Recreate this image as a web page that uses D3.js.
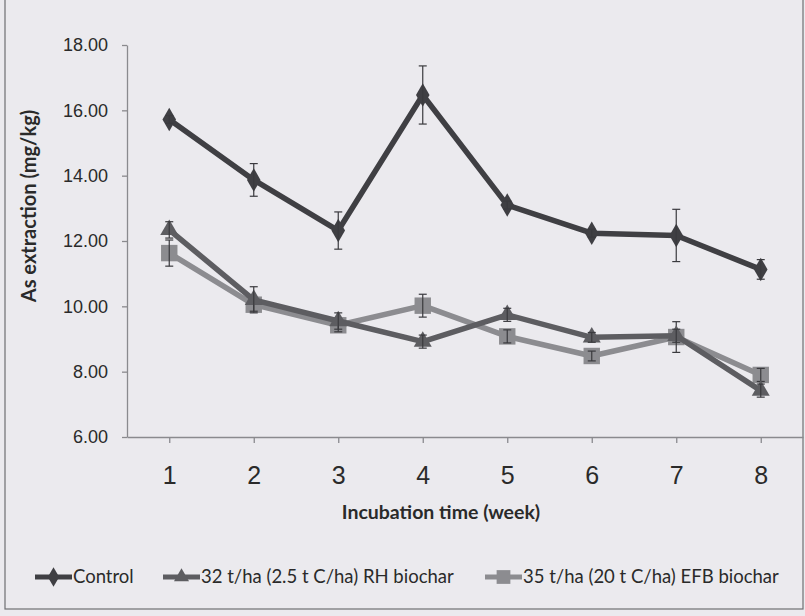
<!DOCTYPE html>
<html>
<head>
<meta charset="utf-8">
<script src="https://cdn.jsdelivr.net/npm/d3@7"></script>
<style>
  body { margin: 0; background: #ebeaee; }
  svg { display: block; }
</style>
</head>
<body>
<div id="chart"></div>
<script>
// data
var weeks = ["1", "2", "3", "4", "5", "6", "7", "8"];
var seriesNames = ["Control", "32 t/ha (2.5 t C/ha) RH biochar", "35 t/ha (20 t C/ha) EFB biochar"];
var control = [15.72, 13.87, 12.32, 16.47, 13.10, 12.24, 12.17, 11.13];
var controlErr = [0.12, 0.50, 0.57, 0.89, 0.12, 0.12, 0.80, 0.30];
var rh = [12.34, 10.20, 9.55, 8.92, 9.74, 9.05, 9.10, 7.42];
var rhErr = [0.25, 0.40, 0.25, 0.20, 0.20, 0.15, 0.20, 0.20];
var efb = [11.63, 10.05, 9.42, 10.02, 9.08, 8.48, 9.06, 7.90];
var efbErr = [0.40, 0.20, 0.20, 0.35, 0.20, 0.15, 0.47, 0.20];
var yTicks = [6, 8, 10, 12, 14, 16, 18];

var W = 805, H = 616;
var margin = {top: 45, right: 2, bottom: 179, left: 127},
    width = W - margin.left - margin.right,
    height = H - margin.top - margin.bottom;

var svg = d3.select("#chart")
  .append("svg")
    .attr("width", W)
    .attr("height", H)
    .style("font-family", "Lato, 'Open Sans', sans-serif");

// paper background + outer chart border
svg.append("rect")
  .attr("width", W).attr("height", H)
  .attr("fill", "#ebeaee");
svg.append("rect")
  .attr("x", 5).attr("y", -5)
  .attr("width", 798).attr("height", 614)
  .attr("fill", "none")
  .attr("stroke", "#6e6e72")
  .attr("stroke-width", 1.2);

var g = svg.append("g")
  .attr("transform", "translate(" + margin.left + "," + margin.top + ")");

var x = d3.scalePoint()
  .domain(weeks)
  .range([0, width])
  .padding(0.5);

var y = d3.scaleLinear()
  .domain([6, 18])
  .range([height, 0]);

// Y axis
var yAxis = g.append("g")
  .call(d3.axisLeft(y).tickValues(yTicks).tickFormat(d3.format(".2f")).tickSize(5).tickSizeOuter(0));
yAxis.select(".domain").attr("stroke", "#8a8a8e").attr("stroke-width", 1.3);
yAxis.selectAll(".tick line").attr("stroke", "#8a8a8e").attr("stroke-width", 1.3);
yAxis.selectAll(".tick text")
  .attr("x", -19)
  .attr("fill", "#2a2a2a")
  .style("font-size", "18px");

// X axis
var xAxis = g.append("g")
  .attr("transform", "translate(0," + height + ")")
  .call(d3.axisBottom(x).tickSize(6).tickSizeOuter(0));
xAxis.select(".domain").attr("stroke", "#8a8a8e").attr("stroke-width", 1.3);
xAxis.selectAll(".tick line").attr("stroke", "#8a8a8e").attr("stroke-width", 1.3);
xAxis.selectAll(".tick text")
  .attr("y", 29)
  .attr("fill", "#2a2a2a")
  .style("font-size", "25px");

// axis titles
svg.append("text")
  .attr("transform", "translate(36,206)rotate(-90)")
  .attr("text-anchor", "middle")
  .attr("fill", "#2a2a2a")
  .style("font-size", "20px")
  .style("font-weight", "bold")
  .text("As extraction (mg/kg)");

svg.append("text")
  .attr("x", 441)
  .attr("y", 519)
  .attr("text-anchor", "middle")
  .attr("fill", "#2a2a2a")
  .style("font-size", "19.5px")
  .style("font-weight", "bold")
  .text("Incubation time (week)");

var series = [
  {name: seriesNames[0], values: control, err: controlErr, color: "#3f3f43", marker: d3.symbolDiamond, msize: 160},
  {name: seriesNames[1], values: rh, err: rhErr, color: "#5d5d61", marker: d3.symbolTriangle, msize: 140},
  {name: seriesNames[2], values: efb, err: efbErr, color: "#8c8c90", marker: d3.symbolSquare, msize: 270}
];

var line = d3.line()
  .x(function(d, i) { return x(weeks[i]); })
  .y(function(d) { return y(d); });

// draw back-to-front: EFB, RH, Control
series.slice().reverse().forEach(function(s) {
  var sg = g.append("g");

  sg.append("path")
    .datum(s.values)
    .attr("fill", "none")
    .attr("stroke", s.color)
    .attr("stroke-width", 5.5)
    .attr("stroke-linejoin", "round")
    .attr("d", line);

  sg.selectAll(".pt")
    .data(s.values)
    .enter()
    .append("path")
      .attr("transform", function(d, i) { return "translate(" + x(weeks[i]) + "," + y(d) + ")"; })
      .attr("d", d3.symbol().type(s.marker).size(s.msize))
      .attr("fill", s.color);

  // error bars
  var eb = sg.selectAll(".eb")
    .data(s.values)
    .enter()
    .append("g")
      .attr("stroke", "#3a3a3e")
      .attr("stroke-width", 1.2);
  eb.append("line")
    .attr("x1", function(d, i) { return x(weeks[i]); })
    .attr("x2", function(d, i) { return x(weeks[i]); })
    .attr("y1", function(d, i) { return y(d + s.err[i]); })
    .attr("y2", function(d, i) { return y(d - s.err[i]); });
  eb.append("line")
    .attr("x1", function(d, i) { return x(weeks[i]) - 4; })
    .attr("x2", function(d, i) { return x(weeks[i]) + 4; })
    .attr("y1", function(d, i) { return y(d + s.err[i]); })
    .attr("y2", function(d, i) { return y(d + s.err[i]); });
  eb.append("line")
    .attr("x1", function(d, i) { return x(weeks[i]) - 4; })
    .attr("x2", function(d, i) { return x(weeks[i]) + 4; })
    .attr("y1", function(d, i) { return y(d - s.err[i]); })
    .attr("y2", function(d, i) { return y(d - s.err[i]); });
});

// legend
var legendX = [35, 163, 485];
var legend = svg.selectAll(".legend")
  .data(series)
  .enter()
  .append("g")
    .attr("transform", function(d, i) { return "translate(" + legendX[i] + ",577)"; });
legend.append("line")
  .attr("x1", 0).attr("x2", 37)
  .attr("stroke", function(d) { return d.color; })
  .attr("stroke-width", 5);
legend.append("path")
  .attr("transform", "translate(18.5,0)")
  .attr("d", function(d) { return d3.symbol().type(d.marker).size(d.msize * 0.7)(); })
  .attr("fill", function(d) { return d.color; });
legend.append("text")
  .attr("x", 38)
  .attr("dy", "0.35em")
  .attr("fill", "#2a2a2a")
  .style("font-size", "18.5px")
  .text(function(d) { return d.name; });
</script>
</body>
</html>
